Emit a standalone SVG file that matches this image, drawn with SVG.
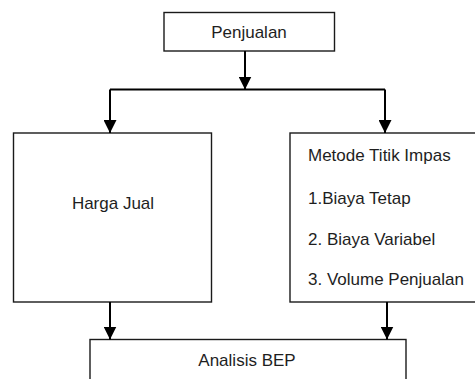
<svg xmlns="http://www.w3.org/2000/svg" width="475" height="379" viewBox="0 0 475 379">
<style>
.box{fill:#fff;stroke:#1a1a1a;stroke-width:1.4}
.t{font-family:"Liberation Sans",Arial,sans-serif;font-size:17px;fill:#1e1e1e}
.c{fill:none;stroke:#000;stroke-width:2}
</style>
<defs>
<marker id="ah" viewBox="0 0 13 13" refX="13" refY="6.5" markerWidth="13" markerHeight="13" markerUnits="userSpaceOnUse" orient="auto">
<path d="M0,0 L13,6.5 L0,13 z" fill="#000"/>
</marker>
</defs>
<rect width="475" height="379" fill="#fff"/>
<g id="penjualan">
<rect class="box" x="164" y="12.5" width="170.5" height="38.5"/>
<text class="t" x="249" y="38" text-anchor="middle">Penjualan</text>
</g>
<g id="harga-jual">
<rect class="box" x="13.5" y="133" width="198" height="169"/>
<text class="t" x="113" y="209" text-anchor="middle">Harga Jual</text>
</g>
<g id="metode-titik-impas">
<rect class="box" x="290" y="133" width="200" height="169"/>
<text class="t" x="308" y="161">Metode Titik Impas</text>
<text class="t" x="308" y="204">1.Biaya Tetap</text>
<text class="t" x="308" y="245">2. Biaya Variabel</text>
<text class="t" x="308" y="285">3. Volume Penjualan</text>
</g>
<g id="analisis-bep">
<rect class="box" x="90" y="339.5" width="316" height="60"/>
<text class="t" x="247" y="366" text-anchor="middle">Analisis BEP</text>
</g>
<g id="connectors">
<path class="c" d="M245,51 V89.5" marker-end="url(#ah)"/>
<path class="c" d="M110,89.5 H385"/>
<path class="c" d="M110,89.5 V133" marker-end="url(#ah)"/>
<path class="c" d="M385,89.5 V133" marker-end="url(#ah)"/>
<path class="c" d="M110,302 V339.5" marker-end="url(#ah)"/>
<path class="c" d="M387,302 V339.5" marker-end="url(#ah)"/>
</g>
</svg>
